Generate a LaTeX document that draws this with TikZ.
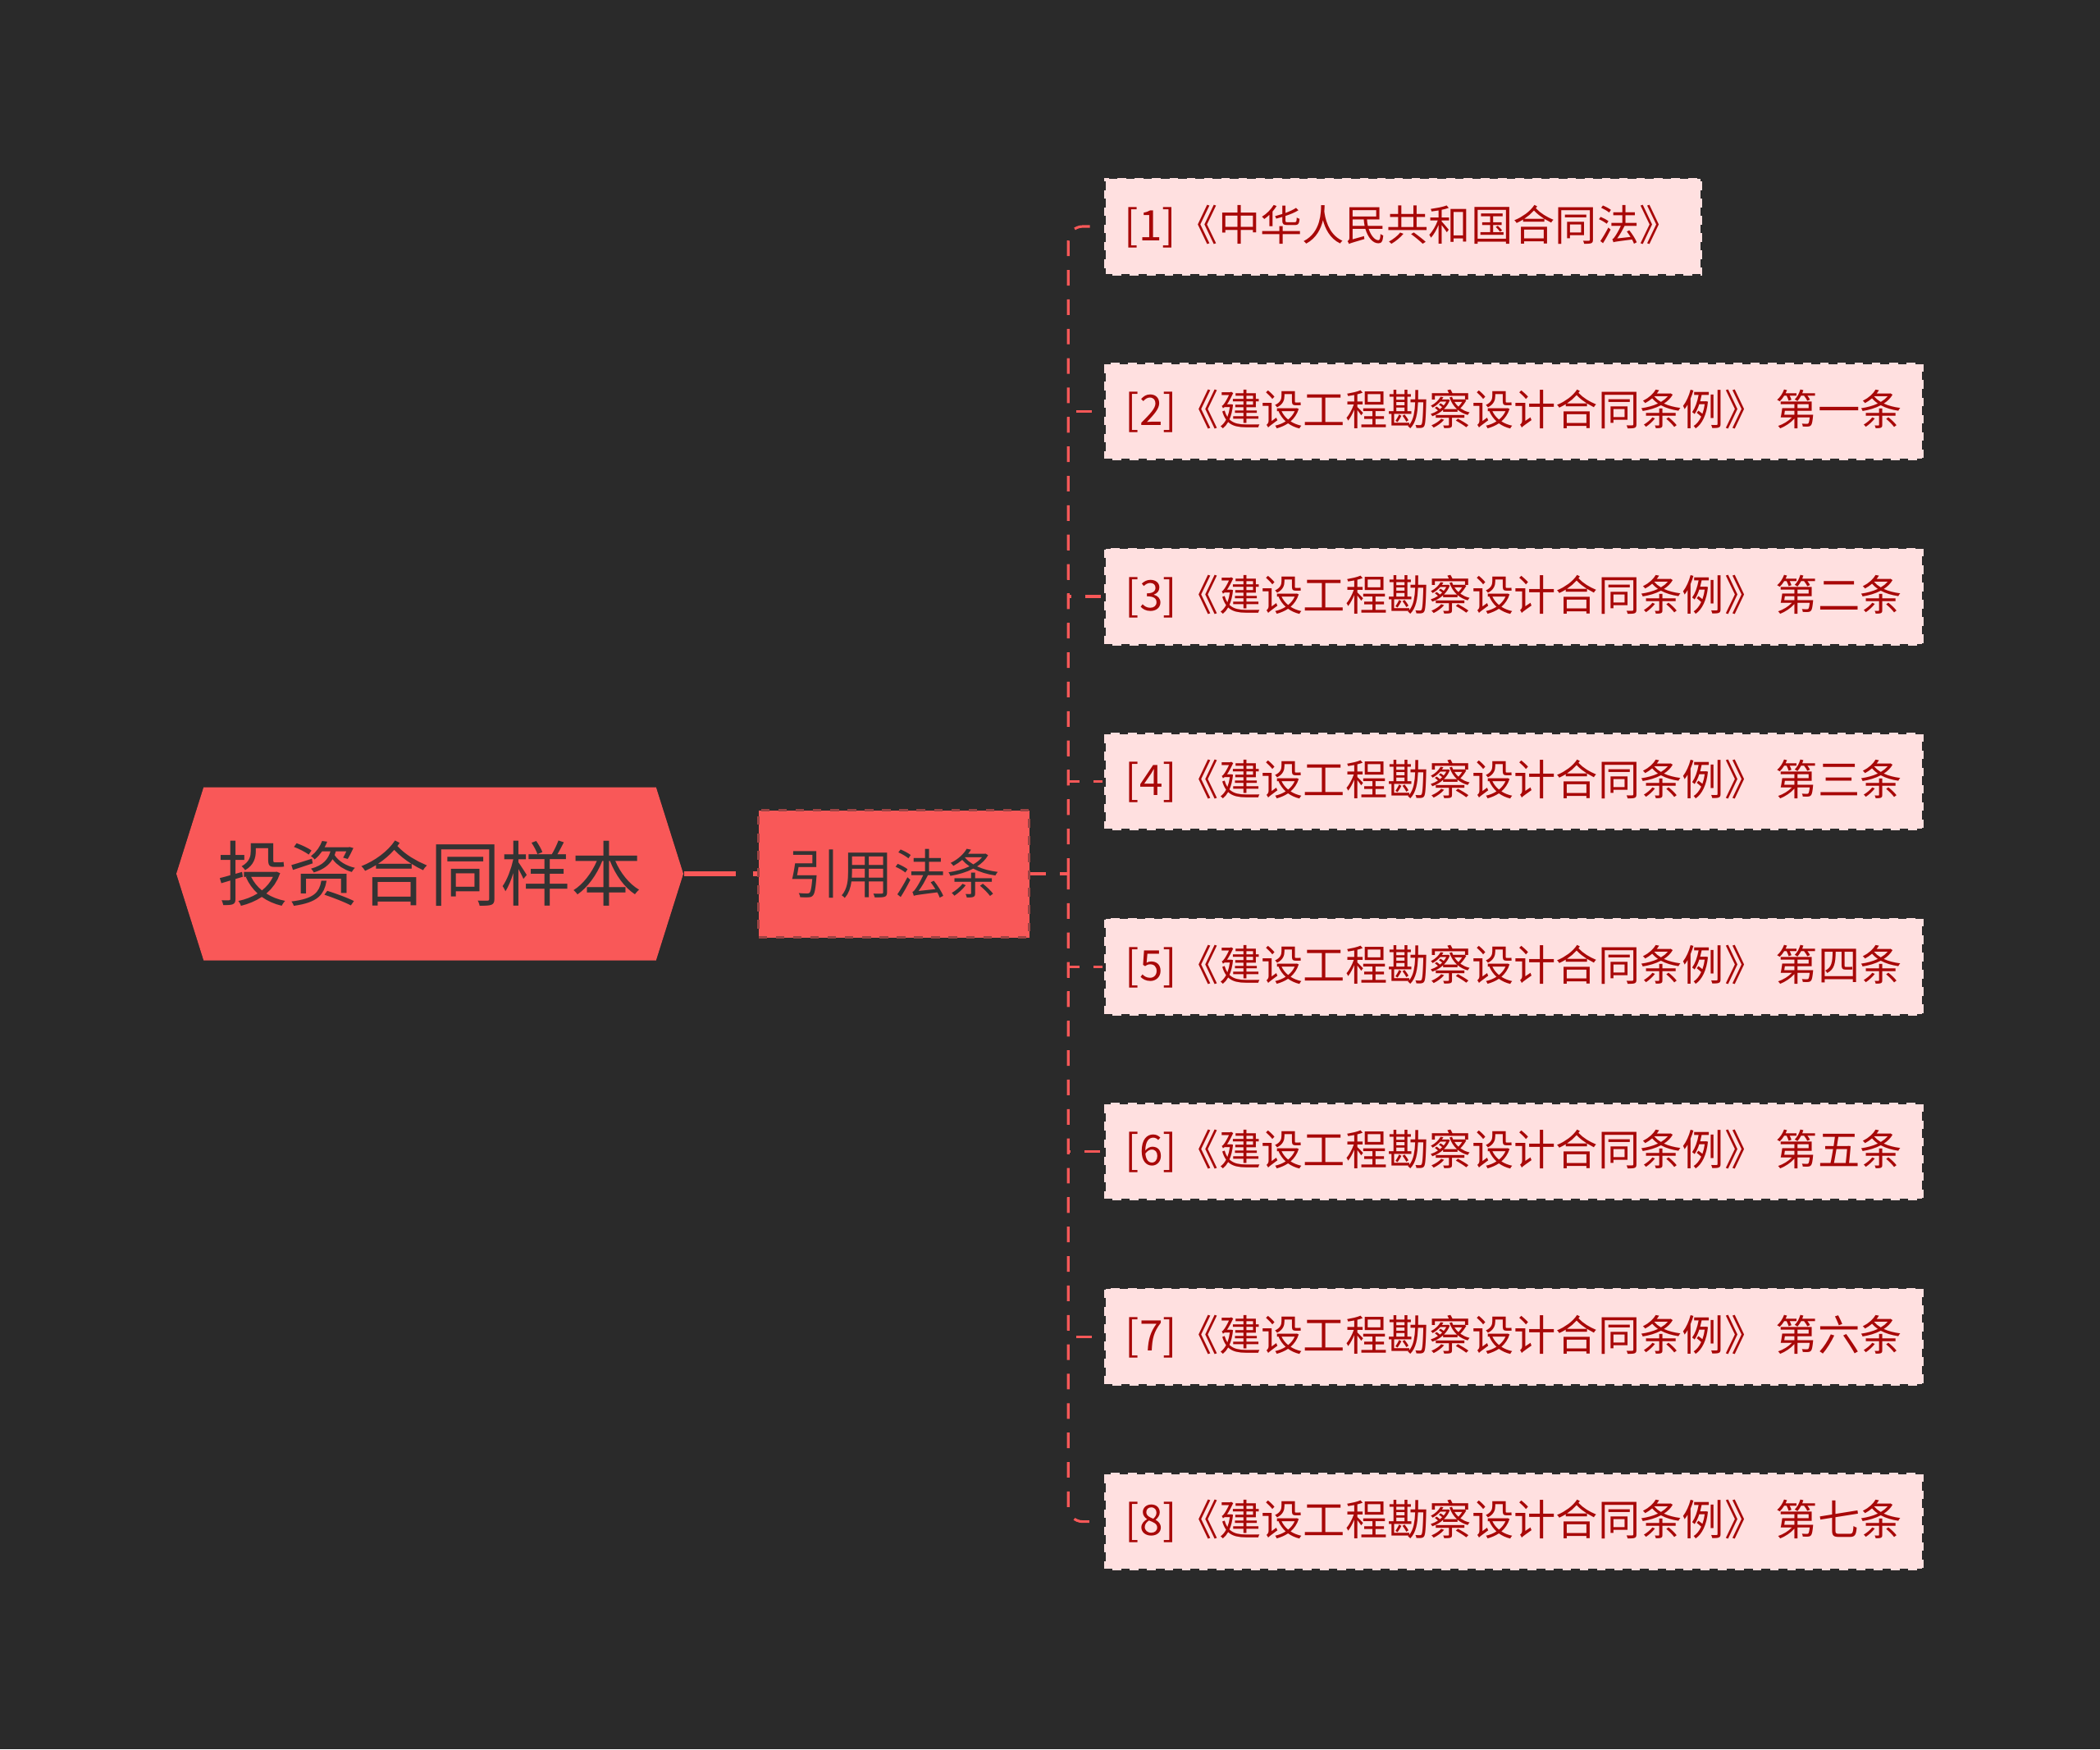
\documentclass[tikz,border=0pt]{standalone}
\usepackage{fontspec}
\setmainfont{Noto Sans CJK SC}
\definecolor{mapBg}{HTML}{2A2A2A}
\definecolor{mapRed}{HTML}{F95858}
\definecolor{mapPink}{HTML}{FFE0E0}
\definecolor{mapText}{HTML}{333333}
\definecolor{mapDark}{HTML}{A80808}
\usetikzlibrary{positioning,shapes.symbols}

\begin{document}
\begin{tikzpicture}[
  root/.style={signal,signal to=west and east,signal pointer angle=145,fill=mapRed,
               minimum width=6.18cm,minimum height=2.11cm,inner sep=0pt,
               font=\fontsize{24.5}{28}\selectfont,text=mapText},
  sub/.style={draw=mapBg!45!mapRed,dashed,line width=1pt,fill=mapRed,
              minimum width=3.3cm,minimum height=1.55cm,inner sep=0pt,
              font=\fontsize{18.4}{22}\selectfont,text=mapText},
  law/.style={draw=mapBg,dashed,line width=1pt,fill=mapPink,
              minimum width=9.99cm,minimum height=1.19cm,inner sep=0pt,
              font=\fontsize{14.6}{18}\selectfont,text=mapDark},
  link/.style={mapRed,line width=0.9pt,dash pattern=on 5.4pt off 4.8pt},
  node distance=1.03cm
]
  \fill[mapBg] (0,0) rectangle (25.6,-21.32);
  \useasboundingbox (0,0) rectangle (25.6,-21.32);

  % Root and topic
  \node[root] (root) at (5.24,-10.65) {投资合同样本};
  \node[sub,right=0.89cm of root] (cite) {引用法条};
  \draw[mapRed,line width=1.7pt,dash pattern=on 18pt off 6pt] (root.east) -- (cite.west);
  \coordinate[right=0.46cm of cite.east] (bus);

  % Cited laws
  \node[law,anchor=west,minimum width=7.29cm] (law1) at (13.44,-2.76) {[1]《中华人民共和国合同法》};
  \node[law,below=1.03cm of law1.south west,anchor=north west] (law2) {[2]《建设工程勘察设计合同条例》 第一条};
  \node[law,below=of law2] (law3) {[3]《建设工程勘察设计合同条例》 第二条};
  \node[law,below=of law3] (law4) {[4]《建设工程勘察设计合同条例》 第三条};
  \node[law,below=of law4] (law5) {[5]《建设工程勘察设计合同条例》 第四条};
  \node[law,below=of law5] (law6) {[6]《建设工程勘察设计合同条例》 第五条};
  \node[law,below=of law6] (law7) {[7]《建设工程勘察设计合同条例》 第六条};
  \node[law,below=of law7] (law8) {[8]《建设工程勘察设计合同条例》 第七条};

  \draw[link] (cite.east) -- (bus);
  \draw[link,rounded corners=5pt] (bus) |- (law1.west);
  \draw[link] (bus) |- (law2.west);
  \draw[link] (bus) |- (law3.west);
  \draw[link] (bus) |- (law4.west);
  \draw[link] (bus) |- (law5.west);
  \draw[link] (bus) |- (law6.west);
  \draw[link] (bus) |- (law7.west);
  \draw[link,rounded corners=5pt] (bus) |- (law8.west);
\end{tikzpicture}
\end{document}
